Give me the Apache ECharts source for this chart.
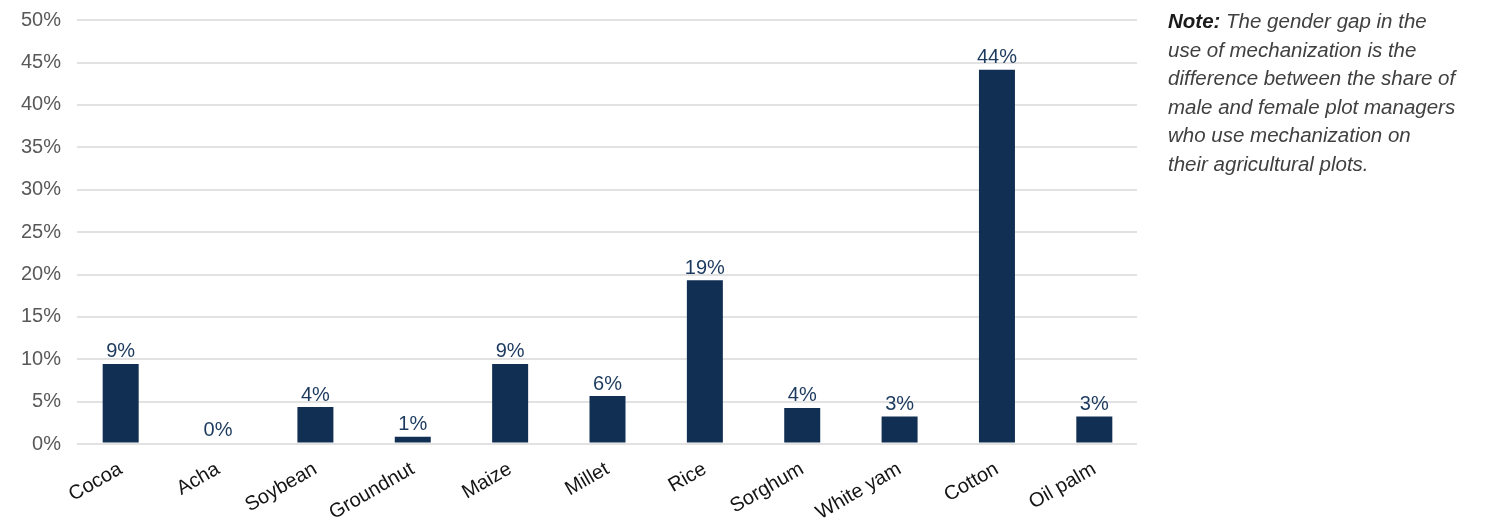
<!DOCTYPE html>
<html><head><meta charset="utf-8">
<script src="https://cdn.jsdelivr.net/npm/echarts@6/dist/echarts.min.js"></script>
<style>html,body{margin:0;padding:0;background:#fff}#c{width:1495px;height:525px}
#note{position:absolute;left:1168px;top:7px;width:325px;font-family:"Liberation Sans",Arial,sans-serif;font-style:italic;font-size:20.5px;line-height:28.5px;color:#404040;white-space:nowrap}
#note b{color:#1a1a1a}
</style></head><body>
<div id="c"></div>
<div id="note"><b>Note:</b> The gender gap in the<br>use of mechanization is the<br>difference between the share of<br>male and female plot managers<br>who use mechanization on<br>their agricultural plots.</div>
<script>
const categories = ["Cocoa","Acha","Soybean","Groundnut","Maize","Millet","Rice","Sorghum","White yam","Cotton","Oil palm"];
const gapValues = [9.3, 0, 4.2, 0.7, 9.3, 5.5, 19.2, 4.1, 3.1, 44.1, 3.1];
const yTicks = [0, 5, 10, 15, 20, 25, 30, 35, 40, 45, 50];
const FONT = 'Liberation Sans, Arial, sans-serif';
const chart = echarts.init(document.getElementById('c'));
chart.setOption({
  animation:false,
  grid:[{left:77,right:358,top:20,bottom:81},{left:72,right:352,top:20,bottom:81}],
  xAxis:[
    {gridIndex:0,type:'category',data:categories,show:false},
    {gridIndex:1,type:'category',data:categories,
     axisLine:{show:false},axisTick:{show:false},
     axisLabel:{rotate:30,interval:0,color:'#141414',fontSize:20,fontFamily:FONT,margin:25}}
  ],
  yAxis:[
    {gridIndex:0,type:'value',min:yTicks[0],max:yTicks[yTicks.length-1],interval:5,
     axisLine:{show:false},axisTick:{show:false},
     splitLine:{lineStyle:{color:'#d9d9d9',width:1.5}},
     axisLabel:{formatter:v=>v+'%',color:'#595959',fontSize:20,fontFamily:FONT,margin:16}},
    {gridIndex:1,type:'value',min:yTicks[0],max:yTicks[yTicks.length-1],interval:5,show:false,splitLine:{show:false}}
  ],
  series:[{type:'bar',xAxisIndex:1,yAxisIndex:1,data:gapValues,barWidth:36,
    itemStyle:{color:'#112f52'},
    label:{show:true,position:'top',distance:2,color:'#1c3a5e',fontSize:20,fontFamily:FONT,
      formatter:p=>Math.round(p.value)+'%'}}]
});
</script></body></html>
